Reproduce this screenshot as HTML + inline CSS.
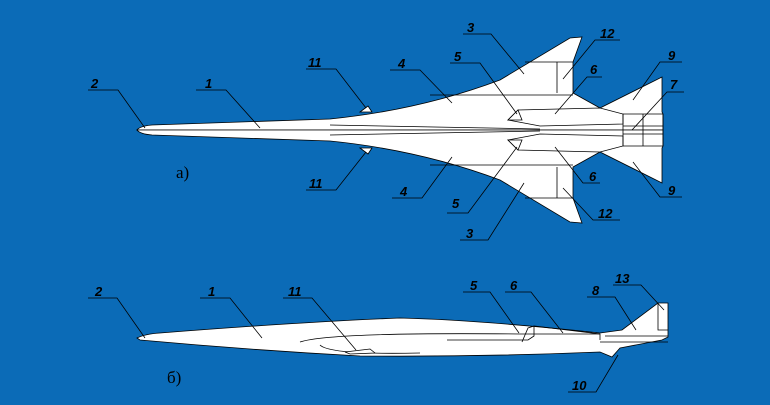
<!DOCTYPE html>
<html><head><style>
body{margin:0;background:#0b6bb7;}
svg{display:block}
text{font-family:"Liberation Sans",sans-serif;font-weight:bold;font-style:italic;font-size:13px;fill:#000}
.r{font-family:"Liberation Serif",serif;font-weight:normal;font-style:normal;font-size:17px}
</style></head><body>
<svg width="770" height="405" viewBox="0 0 770 405">
<rect width="770" height="405" fill="#0b6bb7"/>
<g stroke="#000" stroke-width="0.8" fill="#fff">
<g id="half">
<path d="M137,130 Q140,126 152,125 L330,119 Q420,110 500,80 L570,38 L582,37 L573,62 L573,93 L600,108 L662,77 L662,112 L663,114 L663,130 L137,130 Z"/>
<path d="M525,62 L573,62 M557,62 L557,93 M430,95 L573,95" fill="none"/>
<path d="M508,120 L518,110 L600,108 L623,114 L623,124 L540,126 Z"/>
<path d="M518,110 L522,120 L508,120 Z"/>
<path d="M360,112 L368,106 L372,112 Z"/>
<path d="M623,114 L663,114 L663,130 M643,114 L643,130 M623,126 L663,126 M623,114 L623,130" fill="none"/>
<path d="M330,125 L540,129" fill="none"/>
</g>
<use href="#half" transform="translate(0,260) scale(1,-1)"/>
<!-- side view -->
<path d="M137,338 Q145,334 160,333 Q300,322 400,318 Q480,320 600,333 L622,330 L658,303 L668,303 L668,337 L662,340 L620,348 L612,357 L600,352 Q480,357 360,356 Q250,350 140,340 Z"/>
<path d="M300,342 Q330,332 520,334 L600,334" fill="none"/>
<path d="M320,345 Q330,355 420,353" fill="none"/>
<path d="M447,340 L528,340 L534,336 L534,326 L600,334 L600,340" fill="none"/>
<path d="M522,342 L528,328 L534,326" fill="none"/>
<path d="M605,336 L668,336 M600,342 L668,342 M658,303 L658,330 L668,330" fill="none"/>
<path d="M345,352 L370,349 L375,353 L350,354 Z"/>
</g>
<g stroke="#000" stroke-width="0.8" fill="none">
<path d="M88,90 L118,90 L145,128"/><path d="M196,90 L226,90 L260,128"/>
<path d="M306,69 L336,69 L366,108"/><path d="M306,190 L336,190 L366,152"/>
<path d="M390,70 L420,70 L452,103"/><path d="M392,198 L422,198 L452,157"/>
<path d="M450,63 L480,63 L517,114"/><path d="M447,213 L468,213 L517,147"/>
<path d="M463,34 L491,34 L524,74"/><path d="M460,240 L488,240 L524,183"/>
<path d="M620,40 L595,40 L563,79"/><path d="M620,220 L593,220 L563,188"/>
<path d="M602,77 L587,77 L555,114"/><path d="M600,183 L583,183 L555,147"/>
<path d="M682,62 L660,62 L633,100"/><path d="M682,197 L660,197 L633,162"/>
<path d="M684,92 L667,92 L632,130"/>
<path d="M88,298 L117,298 L145,338"/><path d="M200,298 L230,298 L262,338"/>
<path d="M283,298 L312,298 L356,350"/><path d="M463,292 L490,292 L519,333"/>
<path d="M505,292 L531,292 L563,333"/><path d="M587,297 L615,297 L636,330"/>
<path d="M613,285 L641,285 L664,310"/><path d="M568,392 L596,392 L618,355"/>
</g>
<g>
<text x="91" y="88">2</text><text x="205" y="88">1</text><text x="308" y="67">11</text><text x="309" y="188">11</text>
<text x="398" y="68">4</text><text x="400" y="196">4</text><text x="454" y="61">5</text><text x="452" y="208">5</text>
<text x="467" y="32">3</text><text x="466" y="238">3</text><text x="600" y="38">12</text><text x="598" y="218">12</text>
<text x="590" y="74">6</text><text x="589" y="181">6</text><text x="668" y="60">9</text><text x="668" y="195">9</text>
<text x="670" y="89">7</text>
<text x="95" y="296">2</text><text x="208" y="296">1</text><text x="288" y="296">11</text><text x="470" y="290">5</text>
<text x="510" y="290">6</text><text x="592" y="295">8</text><text x="615" y="283">13</text><text x="572" y="390">10</text>
<text class="r" x="176" y="178">а)</text><text class="r" x="167" y="383">б)</text>
</g>
</svg>
</body></html>
